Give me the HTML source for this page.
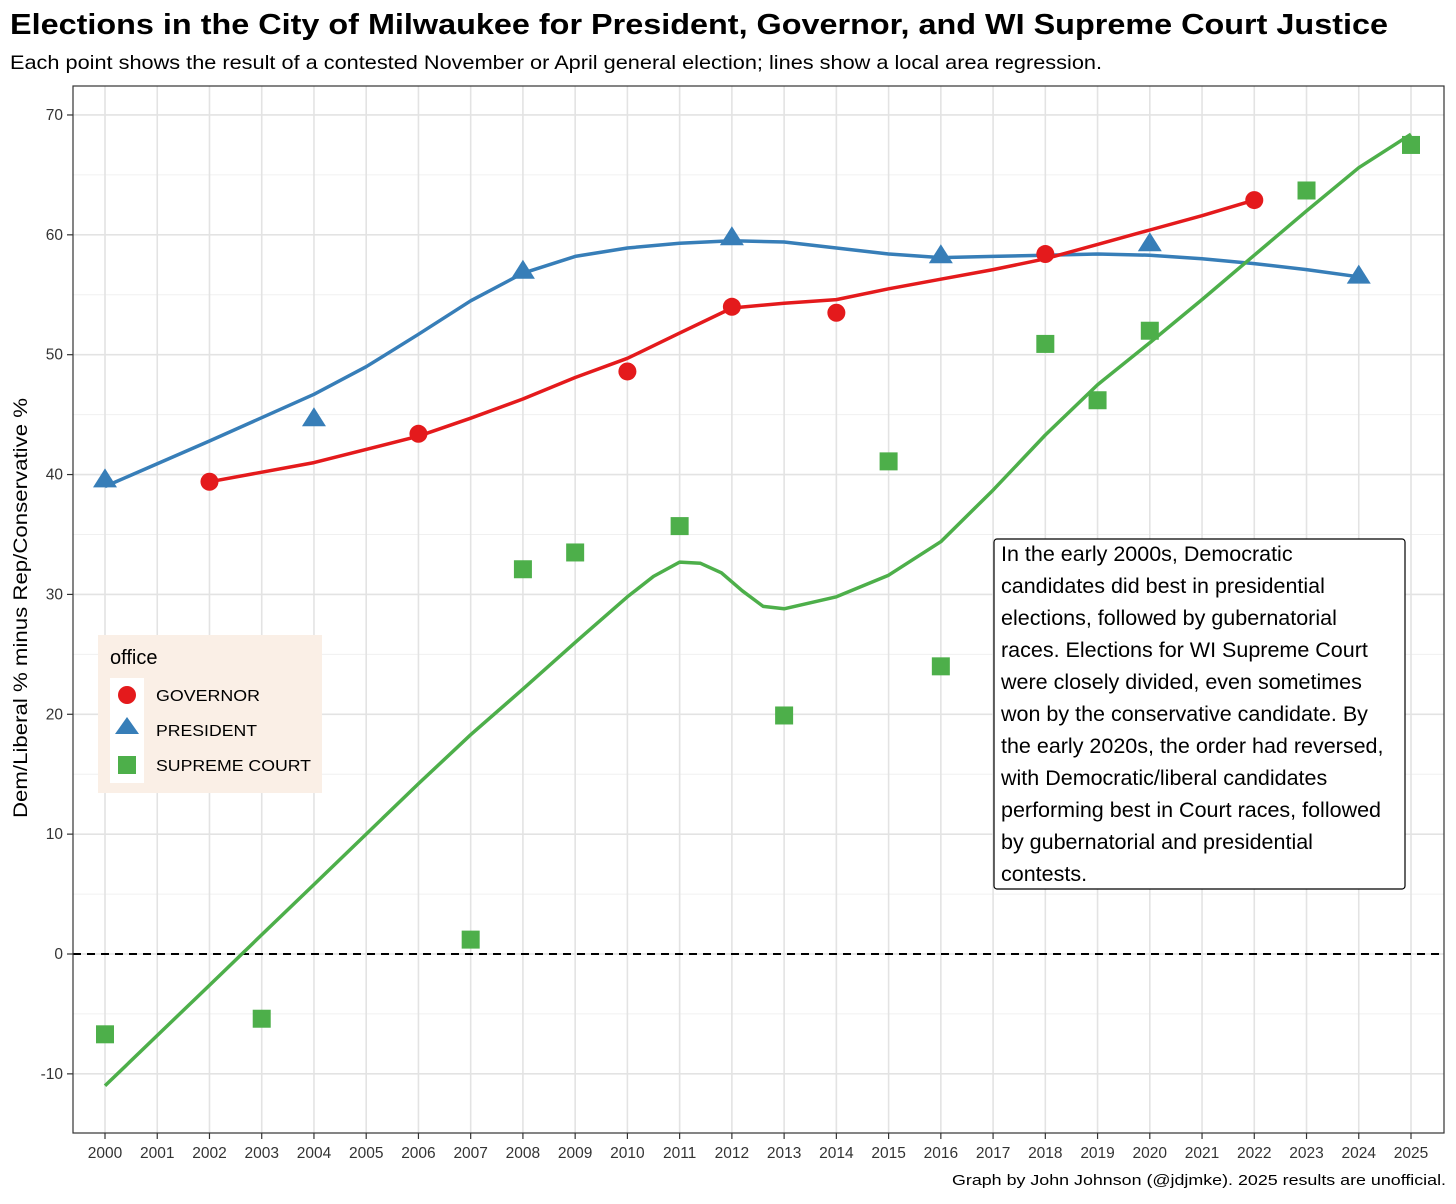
<!DOCTYPE html>
<html><head><meta charset="utf-8"><style>
body{margin:0;background:#fff;}
svg text{font-family:"Liberation Sans",sans-serif;}
</style></head><body>
<svg id="chart" width="1456" height="1199" xmlns="http://www.w3.org/2000/svg">
<text x="10" y="34" font-size="29" font-weight="bold" fill="#000" textLength="1378" lengthAdjust="spacingAndGlyphs">Elections in the City of Milwaukee for President, Governor, and WI Supreme Court Justice</text>
<text x="10" y="69" font-size="19.5" fill="#000" textLength="1092" lengthAdjust="spacingAndGlyphs">Each point shows the result of a contested November or April general election; lines show a local area regression.</text>
<g id="grid"></g>
<g id="lines"></g>
<g id="points"></g>
<rect x="73" y="86" width="1371" height="1047" fill="none" stroke="#333" stroke-width="1.2"/>
<g id="axes"></g>
<text transform="translate(27,608) rotate(-90)" text-anchor="middle" font-size="19.5" fill="#000" textLength="420" lengthAdjust="spacingAndGlyphs">Dem/Liberal % minus Rep/Conservative %</text>
<g>
<rect x="98" y="635" width="224" height="158" fill="#faefe6"/>
<text x="110" y="664" font-size="20" fill="#000">office</text>
<rect x="110" y="678" width="34" height="105" fill="#fff"/>
<circle cx="127" cy="695" r="9" fill="#e41a1c"/>
<polygon points="127,717 139,734 115,734" fill="#377eb8"/>
<rect x="118" y="756" width="18" height="18" fill="#4daf4a"/>
<text x="156" y="701" font-size="16" fill="#000" textLength="104" lengthAdjust="spacingAndGlyphs">GOVERNOR</text>
<text x="156" y="736" font-size="16" fill="#000" textLength="101" lengthAdjust="spacingAndGlyphs">PRESIDENT</text>
<text x="156" y="771" font-size="16" fill="#000" textLength="155" lengthAdjust="spacingAndGlyphs">SUPREME COURT</text>
</g>
<g>
<rect x="994" y="539" width="411" height="350" rx="3" fill="#fff" stroke="#000" stroke-width="1.2"/>
<text font-size="21.5" fill="#000">
<tspan x="1001" y="561">In the early 2000s, Democratic</tspan>
<tspan x="1001" y="593">candidates did best in presidential</tspan>
<tspan x="1001" y="625">elections, followed by gubernatorial</tspan>
<tspan x="1001" y="657">races. Elections for WI Supreme Court</tspan>
<tspan x="1001" y="689">were closely divided, even sometimes</tspan>
<tspan x="1001" y="721">won by the conservative candidate. By</tspan>
<tspan x="1001" y="753">the early 2020s, the order had reversed,</tspan>
<tspan x="1001" y="785">with Democratic/liberal candidates</tspan>
<tspan x="1001" y="817">performing best in Court races, followed</tspan>
<tspan x="1001" y="849">by gubernatorial and presidential</tspan>
<tspan x="1001" y="881">contests.</tspan>
</text>
</g>
<text x="1446" y="1185" text-anchor="end" font-size="15" fill="#000" textLength="494" lengthAdjust="spacingAndGlyphs">Graph by John Johnson (@jdjmke). 2025 results are unofficial.</text>
</svg>
<script>
const yTicks = [-10,0,10,20,30,40,50,60,70];
const govYears = [2002,2006,2010,2012,2014,2018,2022];
const govVals = [39.4,43.4,48.6,54.0,53.5,58.4,62.9];
const presYears = [2000,2004,2008,2012,2016,2020,2024];
const presVals = [39.6,44.7,57.0,59.8,58.3,59.3,56.6];
const scYears = [2000,2003,2007,2008,2009,2011,2013,2015,2016,2018,2019,2020,2023,2025];
const scVals = [-6.7,-5.4,1.2,32.1,33.5,35.7,19.9,41.1,24.0,50.9,46.2,52.0,63.7,67.5];
const presFitX = [2000,2002,2004,2005,2006,2007,2008,2009,2010,2011,2012,2013,2014,2015,2016,2017,2018,2019,2020,2021,2022,2023,2024];
const presFitY = [39,42.8,46.7,49,51.7,54.5,56.8,58.2,58.9,59.3,59.5,59.4,58.9,58.4,58.1,58.2,58.3,58.4,58.3,58,57.6,57.1,56.5];
const govFitX = [2002,2004,2006,2007,2008,2009,2010,2011,2012,2013,2014,2015,2016,2017,2018,2019,2020,2021,2022];
const govFitY = [39.4,41,43.2,44.7,46.3,48.1,49.7,51.8,53.9,54.3,54.6,55.5,56.3,57.1,58,59.2,60.4,61.6,62.9];
const scFitX = [2000,2001,2002,2003,2004,2005,2006,2007,2008,2009,2010,2010.5,2011,2011.4,2011.8,2012.2,2012.6,2013,2014,2015,2016,2017,2018,2019,2020,2021,2022,2023,2024,2025];
const scFitY = [-11,-6.8,-2.6,1.6,5.8,10,14.2,18.3,22.1,26,29.8,31.5,32.7,32.6,31.8,30.3,29,28.8,29.8,31.6,34.4,38.7,43.3,47.5,51,54.6,58.3,62,65.6,68.4];

const NS='http://www.w3.org/2000/svg';
const X = yr => 105 + (yr-2000)*52.24;
const Y = v => 954 - v*11.986;
function mk(tag, attrs, parent){const e=document.createElementNS(NS,tag);for(const k in attrs)e.setAttribute(k,attrs[k]);parent.appendChild(e);return e;}
const grid=document.getElementById('grid'), axes=document.getElementById('axes');
mk('rect',{x:73,y:86,width:1371,height:1047,fill:'#fff'},grid);
for(let v=-15;v<=75;v+=10){const y=Y(v);if(y>86&&y<1133){const l=mk('line',{x1:73,x2:1444,y1:y,y2:y,stroke:'#f0f0f0','stroke-width':1},grid);}}
yTicks.forEach(v=>{const y=Y(v);
const l=mk('line',{x1:73,x2:1444,y1:y,y2:y,stroke:'#e3e3e3','stroke-width':1.6},grid);

mk('line',{x1:67,x2:73,y1:y,y2:y,stroke:'#333','stroke-width':1.2},axes);
const t=mk('text',{x:63,y:y+5,'text-anchor':'end','font-size':15.5,fill:'#333'},axes);t.textContent=v;
});
for(let yr=2000;yr<=2025;yr++){const x=X(yr);
const l=mk('line',{x1:x,x2:x,y1:86,y2:1133,stroke:'#e3e3e3','stroke-width':1.6},grid);

mk('line',{x1:x,x2:x,y1:1133,y2:1139,stroke:'#333','stroke-width':1.2},axes);
const t=mk('text',{x:x,y:1158,'text-anchor':'middle','font-size':15.5,fill:'#333'},axes);t.textContent=yr;
}
const z=mk('line',{x1:73,x2:1444,y1:Y(0),y2:Y(0),stroke:'#000','stroke-width':2,'stroke-dasharray':'8,6'},grid);

const lines=document.getElementById('lines');
function path(xs,ys,col,name){const d=xs.map((x,i)=>(i?'L':'M')+X(x).toFixed(1)+','+Y(ys[i]).toFixed(1)).join('');
const p=mk('path',{d:d,fill:'none',stroke:col,'stroke-width':3.5,'stroke-linejoin':'round'},lines);
}
path(presFitX,presFitY,'#377eb8','president-smooth');
path(govFitX,govFitY,'#e41a1c','governor-smooth');
path(scFitX,scFitY,'#4daf4a','supreme-court-smooth');
const pts=document.getElementById('points');
govYears.forEach((yr,i)=>{const c=mk('circle',{cx:X(yr),cy:Y(govVals[i]),r:9,fill:'#e41a1c'},pts);
});
presYears.forEach((yr,i)=>{const x=X(yr),y=Y(presVals[i]);
const p=mk('polygon',{points:`${x},${y-11} ${x+12},${y+8} ${x-12},${y+8}`,fill:'#377eb8'},pts);
});
scYears.forEach((yr,i)=>{const r=mk('rect',{x:X(yr)-9,y:Y(scVals[i])-9,width:18,height:18,fill:'#4daf4a'},pts);
});
</script>
</body></html>
